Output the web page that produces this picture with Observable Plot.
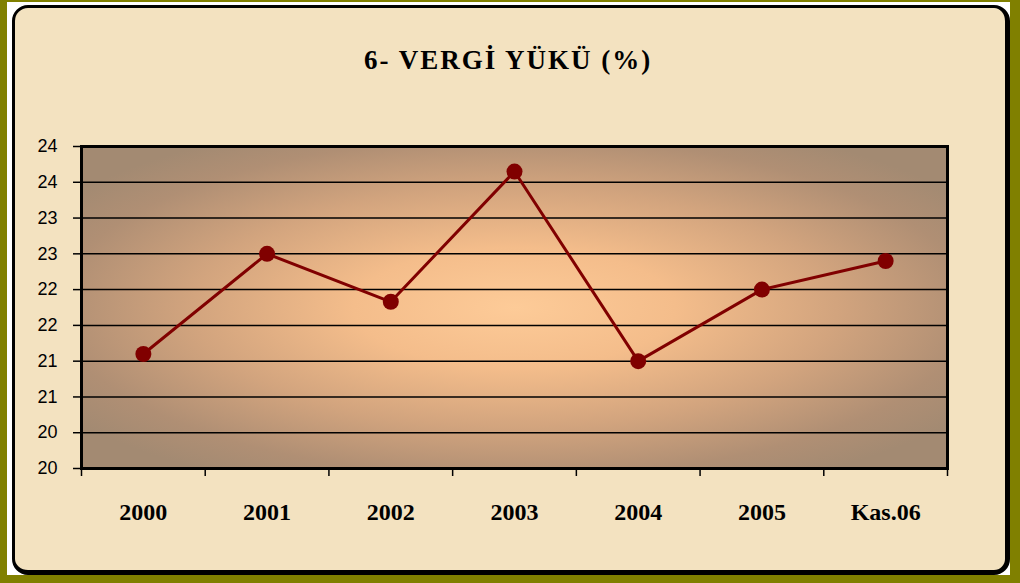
<!DOCTYPE html>
<html>
<head>
<meta charset="utf-8">
<script src="https://cdn.jsdelivr.net/npm/d3@7"></script>
<script src="https://cdn.jsdelivr.net/npm/@observablehq/plot@0.6"></script>
<style>
  html, body { margin: 0; padding: 0; background: #808000; }
  #page { position: relative; width: 1020px; height: 583px; background: #808000; overflow: hidden; }
  #white { position: absolute; left: 7px; top: 2px; width: 1003px; height: 573px; background: #ffffff; }
  #card { position: absolute; left: 12px; top: 5px; width: 990px; height: 562px; background: #f3e2c0;
          border: 3px solid #000; border-right-width: 5px; border-bottom-width: 5px; border-radius: 16px; }
  #title { position: absolute; left: 0; width: 1016px; top: 45px; text-align: center; letter-spacing: 2px;
           font-family: "Liberation Serif", "DejaVu Serif", serif; font-weight: bold; font-size: 27px; color: #000; }
  #chart { position: absolute; left: 0; top: 0; }
</style>
</head>
<body>
<div id="page">
  <div id="white"></div>
  <div id="card"></div>
  <div id="title">6- VERGİ YÜKÜ (%)</div>
  <div id="chart"></div>
</div>
<script>
const categories = ["2000", "2001", "2002", "2003", "2004", "2005", "Kas.06"];
const values = [21.1, 22.5, 21.83, 23.65, 21.0, 22.0, 22.4];
const yTicks = [19.5, 20, 20.5, 21, 21.5, 22, 22.5, 23, 23.5, 24];
const yDomain = [19.5, 24];

const data = categories.map((c, i) => ({ i, cat: c, v: values[i] }));
const centers = categories.map((c, i) => i);
const bounds = categories.map((c, i) => i - 0.5).concat([categories.length - 0.5]);

const defs = () => {
  const ns = "http://www.w3.org/2000/svg";
  const d = document.createElementNS(ns, "defs");
  d.innerHTML = `<radialGradient id="plotbg" cx="0.5" cy="0.5" r="0.62">
      <stop offset="0" stop-color="#fdcb98"/>
      <stop offset="0.3" stop-color="#f4bd8b"/>
      <stop offset="0.6" stop-color="#d2a47e"/>
      <stop offset="0.85" stop-color="#b08f74"/>
      <stop offset="1" stop-color="#a38a72"/>
    </radialGradient>`;
  return d;
};

const chart = Plot.plot({
  width: 1020,
  height: 583,
  marginLeft: 81,
  marginRight: 73,
  marginTop: 146,
  marginBottom: 115,
  style: { background: "transparent", overflow: "visible" },
  x: { type: "linear", domain: [-0.5, categories.length - 0.5] },
  y: { domain: yDomain },
  marks: [
    defs,
    Plot.frame({ fill: "url(#plotbg)", stroke: null }),
    Plot.ruleY(yTicks, { stroke: "#000", strokeWidth: 1.5 }),
    Plot.axisY({ ticks: yTicks, tickSize: 8, tickPadding: 16, tickFormat: d => String(Math.round(d)),
                 fontSize: 18, fontFamily: "Liberation Sans, Arial, sans-serif", stroke: "#000", strokeWidth: 1.5, label: null, color: "#000" }),
    Plot.axisX({ ticks: bounds, tickSize: 8, tickFormat: () => "", strokeWidth: 1.5, label: null }),
    Plot.axisX({ ticks: centers, tickSize: 0, tickPadding: 34, tickFormat: i => categories[i],
                 fontSize: 24, fontWeight: "bold", fontFamily: "Liberation Serif, DejaVu Serif, serif", label: null, color: "#000",
                 style: { letterSpacing: "1.5px" } }),
    Plot.frame({ stroke: "#000", strokeWidth: 3 }),
    Plot.line(data, { x: "i", y: "v", stroke: "#800000", strokeWidth: 3 }),
    Plot.dot(data, { x: "i", y: "v", r: 8, fill: "#800000", stroke: null })
  ]
});
document.getElementById("chart").appendChild(chart);
</script>
</body>
</html>
